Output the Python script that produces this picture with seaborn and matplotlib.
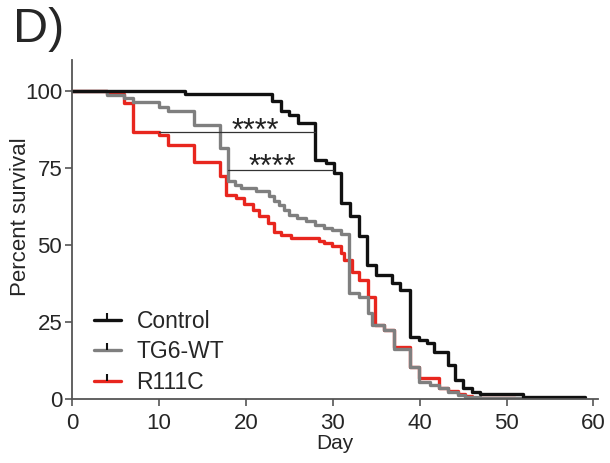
import matplotlib
matplotlib.use("Agg")
import matplotlib.pyplot as plt
from matplotlib.lines import Line2D
import seaborn as sns
import pandas as pd

sns.set_style("ticks")
plt.rcParams['font.family'] = ['Liberation Sans', 'DejaVu Sans']

# step curves (day, percent survival after the step)
control_day = [0, 13, 23, 24, 25, 26, 28, 29.2, 30.1, 31, 32, 33, 34, 35, 36.8, 37.7, 38.9,
               39.9, 40.8, 41.6, 43.3, 44.1, 45, 46, 46.9, 51.9, 59]
control_surv = [100, 99, 96.5, 93.5, 92, 89.5, 77.5, 76.5, 73.4, 63.5, 59.3, 52.8, 43.5, 40.3, 37.7,
                35.4, 20.2, 19.2, 18.1, 15.4, 11, 6.2, 3.5, 2.4, 1.8, 0.8, 0.8]

tg6_day = [0, 4, 6, 7, 10, 11, 14, 17, 18, 18.7, 19.4, 21.2, 22.7, 23.3, 23.8, 24.4, 25, 25.9,
           26.9, 28, 29, 29.9, 30.9, 31.9, 33, 34.1, 34.5, 35.9, 37, 38.9, 39.9, 41.2, 42.2,
           43.3, 44.4, 45.2, 47, 52]
tg6_surv = [100, 98.5, 97.5, 96.3, 94.6, 93.3, 89, 81.4, 70.6, 69.5, 68.4, 67.3, 65.7, 64.3, 63,
            61.4, 59.7, 58.7, 57.6, 56.5, 55.6, 54.8, 53.6, 34.5, 33, 27.8, 24, 22.4, 16.1, 10.3,
            5.5, 4.5, 3.5, 2.4, 1.3, 0.8, 0.4, 0.4]

r111c_day = [0, 4, 6, 7, 10, 11, 14, 17, 17.7, 18.9, 19.8, 20.8, 21.5, 22.5, 23.3, 24, 25.2,
             28.4, 29, 29.9, 30.9, 31.3, 32.2, 33, 34.1, 34.9, 35.9, 37, 38.9, 39.9, 42.2, 43.3,
             44.4, 45.2, 46, 51]
r111c_surv = [100, 99, 96, 86.6, 85.5, 82.5, 77, 72.2, 66.2, 65.2, 63.3, 61.4, 59.2, 57, 54.3, 53.2,
              52.2, 51.4, 50.6, 49.5, 47.3, 45.1, 41.3, 38.6, 33.2, 24, 22.4, 17, 10.5, 6.8, 3.5,
              2.6, 1.5, 1, 0.5, 0.5]

groups = ['Control', 'TG6-WT', 'R111C']
colors = ['#111111', '#7f7f7f', '#e8261e']

x_ticks = [0, 10, 20, 30, 40, 50, 60]
y_ticks = [0, 25, 50, 75, 100]

fig = plt.figure(figsize=(6.1, 4.63), dpi=100)
ax = fig.add_axes([0.118, 0.138, 0.862, 0.733])

curves = [(control_day, control_surv), (tg6_day, tg6_surv), (r111c_day, r111c_surv)]
# draw back to front: red, gray, black
for i in [2, 1, 0]:
    d, s = curves[i]
    df = pd.DataFrame({'Day': d, 'Survival': s})
    sns.lineplot(data=df, x='Day', y='Survival', ax=ax, color=colors[i], lw=2.4,
                 drawstyle='steps-post', estimator=None, sort=False)

# significance brackets
ax.plot([10, 28], [86.6, 86.6], color='#333333', lw=0.9)
ax.plot([18, 30], [74.4, 74.4], color='#333333', lw=0.9)
ax.text(21.1, 84.1, '****', ha='center', va='baseline', fontsize=22, color='#222222')
ax.text(23.0, 72.4, '****', ha='center', va='baseline', fontsize=22, color='#222222')

ax.set_xlim(0, 60.5)
ax.set_ylim(0, 110)
ax.set_xticks(x_ticks)
ax.set_yticks(y_ticks)
ax.tick_params(labelsize=16, length=5, width=1.2, color='#555555', direction='out')
ax.tick_params(axis='x', pad=5)
ax.tick_params(axis='y', pad=2)
for sp in ['left', 'bottom']:
    ax.spines[sp].set_color('#555555')
    ax.spines[sp].set_linewidth(1.3)
sns.despine(ax=ax)
ax.set_xlabel('Day', fontsize=15, labelpad=0)
ax.set_ylabel('Percent survival', fontsize=16)
ax.yaxis.set_label_coords(-0.077, 0.537)

handles = [Line2D([], [], color=c, lw=2.4, marker=2, markersize=5, markeredgewidth=1.5,
                  markeredgecolor='#111111') for c in colors]
ax.legend(handles, groups, loc='lower left', bbox_to_anchor=(0.003, -0.045), frameon=False,
          fontsize=16.5, handlelength=1.15, handletextpad=0.7, labelspacing=0.33, numpoints=1)

fig.text(0.022, 0.985, 'D)', fontsize=35, va='top', ha='left')

fig.savefig('out.png', dpi=100)
